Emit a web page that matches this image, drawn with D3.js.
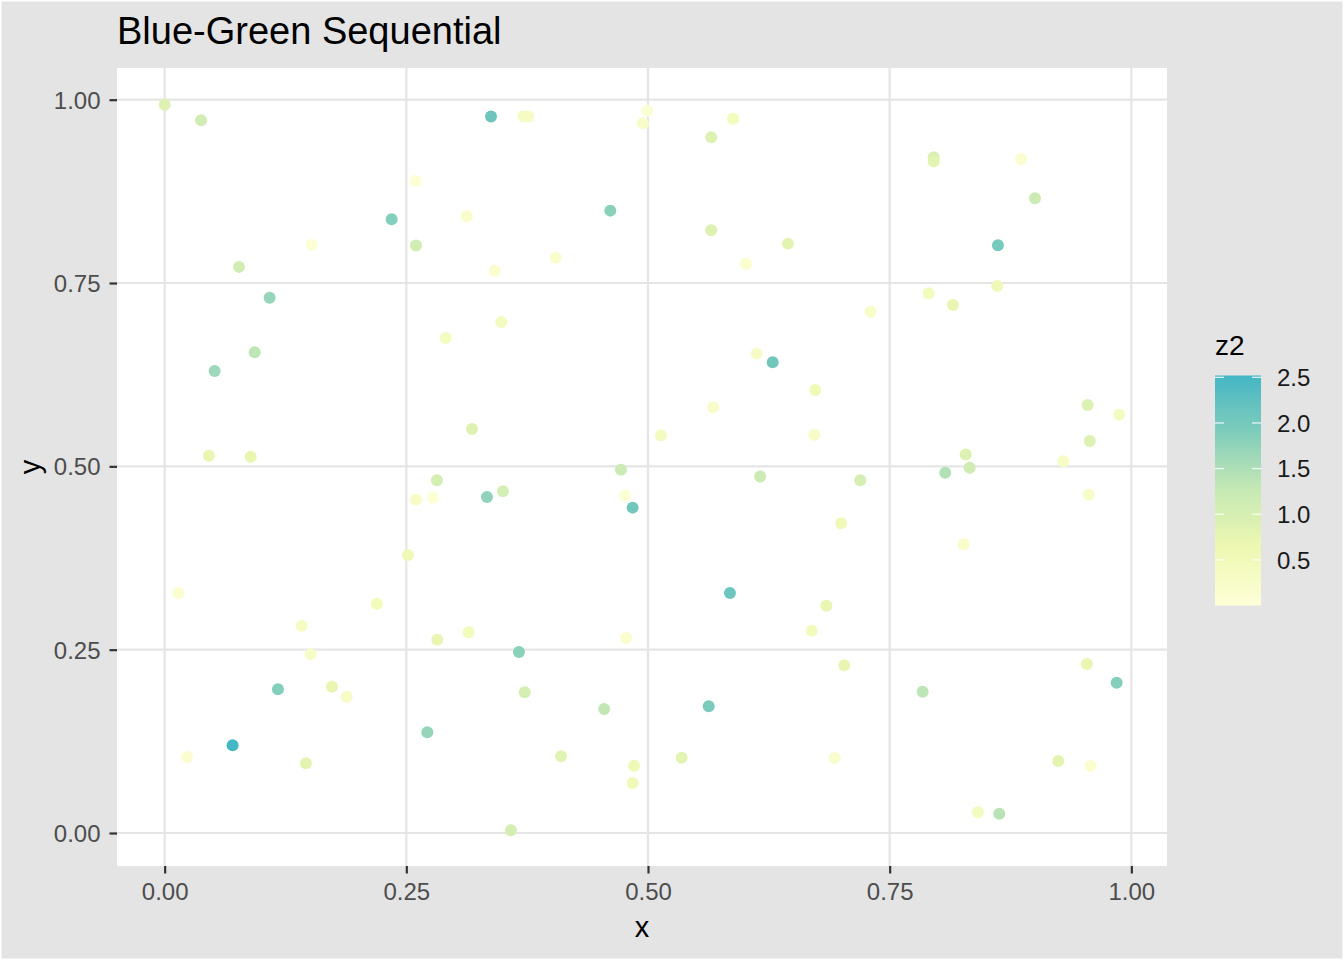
<!DOCTYPE html>
<html>
<head>
<meta charset="utf-8">
<script src="https://cdn.jsdelivr.net/npm/d3@7"></script>
<style>
  html, body { margin: 0; padding: 0; background: #e4e4e4; }
  svg { display: block; font-family: "Liberation Sans", Arial, Helvetica, sans-serif; }
</style>
</head>
<body>
<svg id="chart" width="1344" height="960"></svg>
<script>
// ---- data ----
const xVals = [0.000,0.0376,0.2596,0.2348,0.3124,0.152,0.260,0.0769,0.1086,0.2907,0.0931,0.0517,0.3179,0.0457,0.089,
  0.3376,0.371,0.376,0.4993,0.4948,0.588,0.5654,0.461,0.5654,0.6448,0.6013,0.4045,0.3414,0.3482,0.6124,0.629,0.673,0.5674,0.5134,0.6721,
  0.7955,0.7955,0.886,0.9003,0.862,0.8613,0.7903,0.8155,0.7303,0.9548,0.9875,0.957,0.8286,0.9296,0.8327,0.8075,
  0.2817,0.260,0.2776,0.2517,0.0141,0.2196,0.1417,0.282,0.3145,0.151,0.1172,0.1731,0.1883,0.2717,0.0703,0.0234,0.1462,
  0.472,0.35,0.3334,0.4762,0.4841,0.616,0.5848,0.6845,0.6693,0.4775,0.3665,0.3725,0.4547,0.5628,0.41,0.4855,0.4841,0.5348,0.3582,0.6932,
  0.7196,0.6999,0.8265,0.956,0.703,0.7841,0.9541,0.9848,0.9244,0.9579,0.8413,0.8634];
const yVals = [0.993,0.972,0.889,0.837,0.841,0.802,0.801,0.772,0.730,0.675,0.6555,0.630,0.551,0.5145,0.513,
  0.977,0.977,0.977,0.985,0.968,0.974,0.9487,0.8487,0.822,0.8037,0.7764,0.7846,0.7668,0.6968,0.6537,0.642,0.604,0.5805,0.5423,0.5432,
  0.9214,0.9159,0.9187,0.8655,0.8014,0.746,0.736,0.720,0.7109,0.5836,0.5705,0.5346,0.516,0.507,0.4982,0.4914,
  0.481,0.4546,0.4573,0.379,0.3273,0.3127,0.2827,0.2636,0.2737,0.2437,0.196,0.1995,0.1859,0.1373,0.1196,0.1036,0.095,
  0.4955,0.466,0.4582,0.46,0.4437,0.486,0.3273,0.31,0.2758,0.2659,0.2468,0.1919,0.1691,0.1728,0.1046,0.0918,0.0682,0.1027,0.0037,0.1023,
  0.481,0.4223,0.3937,0.4614,0.2287,0.1927,0.2305,0.205,0.0982,0.0914,0.0282,0.0263];
const zVals = [0.9,1.1,0.1,1.85,0.2,0.1,1.1,1.1,1.7,0.4,1.35,1.65,0.9,0.7,0.7,
  2.1,0.35,0.35,0.1,0.25,0.45,0.9,1.8,0.9,0.8,0.15,0.2,0.15,0.4,0.3,2.05,0.5,0.25,0.4,0.25,
  0.95,0.8,0.15,1.2,2.0,0.5,0.45,0.7,0.25,0.9,0.4,0.9,0.9,0.3,1.15,1.45,
  1.05,0.3,0.1,0.5,0.15,0.45,0.35,0.7,0.45,0.3,1.85,0.7,0.3,1.7,2.5,0.15,0.8,
  1.2,1.05,1.75,0.1,2.05,1.2,2.1,0.7,0.45,0.15,1.8,1.05,1.3,1.95,0.85,0.55,0.5,0.8,1.05,0.2,
  1.05,0.5,0.25,0.25,0.7,1.35,0.7,1.85,0.8,0.15,0.4,1.4];

const xTicks = [0, 0.25, 0.5, 0.75, 1];
const yTicks = [0, 0.25, 0.5, 0.75, 1];
const legendTicks = [0.5, 1.0, 1.5, 2.0, 2.5];
const zRange = [0, 2.52];
const paletteStops = ["#FFFFD9", "#EDF8B1", "#C7E9B4", "#7FCDBB", "#41B6C4"];
const titleText = "Blue-Green Sequential";
const xTitle = "x", yTitle = "y", legendTitle = "z2";

// ---- layout ----
const W = 1344, H = 960;
const panel = { left: 117, right: 1167, top: 68, bottom: 866 };
const svg = d3.select("#chart");

svg.append("rect").attr("x", 0.75).attr("y", 0.75).attr("width", W - 1.5).attr("height", H - 1.5)
  .attr("fill", "#e4e4e4").attr("stroke", "#ffffff").attr("stroke-width", 1.5);

const x = d3.scaleLinear().domain([-0.0493, 1.0369]).range([panel.left, panel.right]);
const y = d3.scaleLinear().domain([-0.045, 1.0432]).range([panel.bottom, panel.top]);

const stopDomain = paletteStops.map((d, i) => zRange[0] + (zRange[1] - zRange[0]) * i / (paletteStops.length - 1));
const color = d3.scaleLinear().domain(stopDomain).range(paletteStops).interpolate(d3.interpolateLab).clamp(true);

// panel
svg.append("rect").attr("x", panel.left).attr("y", panel.top)
  .attr("width", panel.right - panel.left).attr("height", panel.bottom - panel.top).attr("fill", "#ffffff");

const grid = svg.append("g");
grid.selectAll("line.vx").data(xTicks).join("line")
  .attr("x1", d => x(d)).attr("x2", d => x(d)).attr("y1", panel.top).attr("y2", panel.bottom)
  .attr("stroke", "#e5e5e5").attr("stroke-width", 2.2);
grid.selectAll("line.hy").data(yTicks).join("line")
  .attr("y1", d => y(d)).attr("y2", d => y(d)).attr("x1", panel.left).attr("x2", panel.right)
  .attr("stroke", "#e5e5e5").attr("stroke-width", 2.2);

// points
const pts = xVals.map((v, i) => ({ x: v, y: yVals[i], z: zVals[i] }));
svg.append("g").selectAll("circle").data(pts).join("circle")
  .attr("cx", d => x(d.x)).attr("cy", d => y(d.y)).attr("r", 6)
  .attr("fill", d => color(d.z));

// axes
const fmt = d3.format(".2f");
const xAxis = d3.axisBottom(x).tickValues(xTicks).tickFormat(fmt).tickSize(7.5).tickPadding(4);
const gx = svg.append("g").attr("transform", `translate(0,${panel.bottom})`).call(xAxis);
gx.select(".domain").remove();
gx.selectAll(".tick line").attr("stroke", "#333333").attr("stroke-width", 2.2);
gx.selectAll(".tick text").attr("fill", "#4d4d4d").style("font-size", "24px")
  .style("font-family", "Liberation Sans, Arial, sans-serif").attr("dy", "0.71em").attr("y", 16.5);

const yAxis = d3.axisLeft(y).tickValues(yTicks).tickFormat(fmt).tickSize(7.5).tickPadding(4);
const gy = svg.append("g").attr("transform", `translate(${panel.left},0)`).call(yAxis);
gy.select(".domain").remove();
gy.selectAll(".tick line").attr("stroke", "#333333").attr("stroke-width", 2.2);
gy.selectAll(".tick text").attr("fill", "#4d4d4d").style("font-size", "24px")
  .style("font-family", "Liberation Sans, Arial, sans-serif").attr("x", -16.5).attr("dy", "0.36em");

// titles
svg.append("text").attr("x", 117).attr("y", 44).attr("font-size", 38).attr("fill", "#000").text(titleText);
svg.append("text").attr("x", (panel.left + panel.right) / 2).attr("y", 937).attr("text-anchor", "middle")
  .attr("font-size", 29).attr("fill", "#000").text(xTitle);
svg.append("text").attr("transform", `translate(40,${(panel.top + panel.bottom) / 2}) rotate(-90)`)
  .attr("text-anchor", "middle").attr("font-size", 29).attr("fill", "#000").text(yTitle);

// legend
const lg = { left: 1215, right: 1261, top: 375.5, bottom: 605.5 };
const ly = d3.scaleLinear().domain(zRange).range([lg.bottom, lg.top]);
const defs = svg.append("defs");
const grad = defs.append("linearGradient").attr("id", "zgrad").attr("x1", 0).attr("y1", 1).attr("x2", 0).attr("y2", 0);
d3.range(0, 1.0001, 0.02).forEach(t => {
  grad.append("stop").attr("offset", t).attr("stop-color", color(zRange[0] + t * (zRange[1] - zRange[0])));
});
svg.append("rect").attr("x", lg.left).attr("y", lg.top).attr("width", lg.right - lg.left)
  .attr("height", lg.bottom - lg.top).attr("fill", "url(#zgrad)");
const lt = svg.append("g");
lt.selectAll("line.l").data(legendTicks).join("line")
  .attr("x1", lg.left).attr("x2", lg.left + 9).attr("y1", d => ly(d)).attr("y2", d => ly(d))
  .attr("stroke", "#ffffff").attr("stroke-opacity", 0.8).attr("stroke-width", 1.3);
lt.selectAll("line.r").data(legendTicks).join("line")
  .attr("x1", lg.right - 9).attr("x2", lg.right).attr("y1", d => ly(d)).attr("y2", d => ly(d))
  .attr("stroke", "#ffffff").attr("stroke-opacity", 0.8).attr("stroke-width", 1.3);
lt.selectAll("text").data(legendTicks).join("text")
  .attr("x", 1277).attr("y", d => ly(d)).attr("dy", "0.36em").attr("font-size", 24).attr("fill", "#1a1a1a")
  .text(d => d3.format(".1f")(d));
svg.append("text").attr("x", 1215).attr("y", 355).attr("font-size", 28).attr("fill", "#000").text(legendTitle);
</script>
</body>
</html>
